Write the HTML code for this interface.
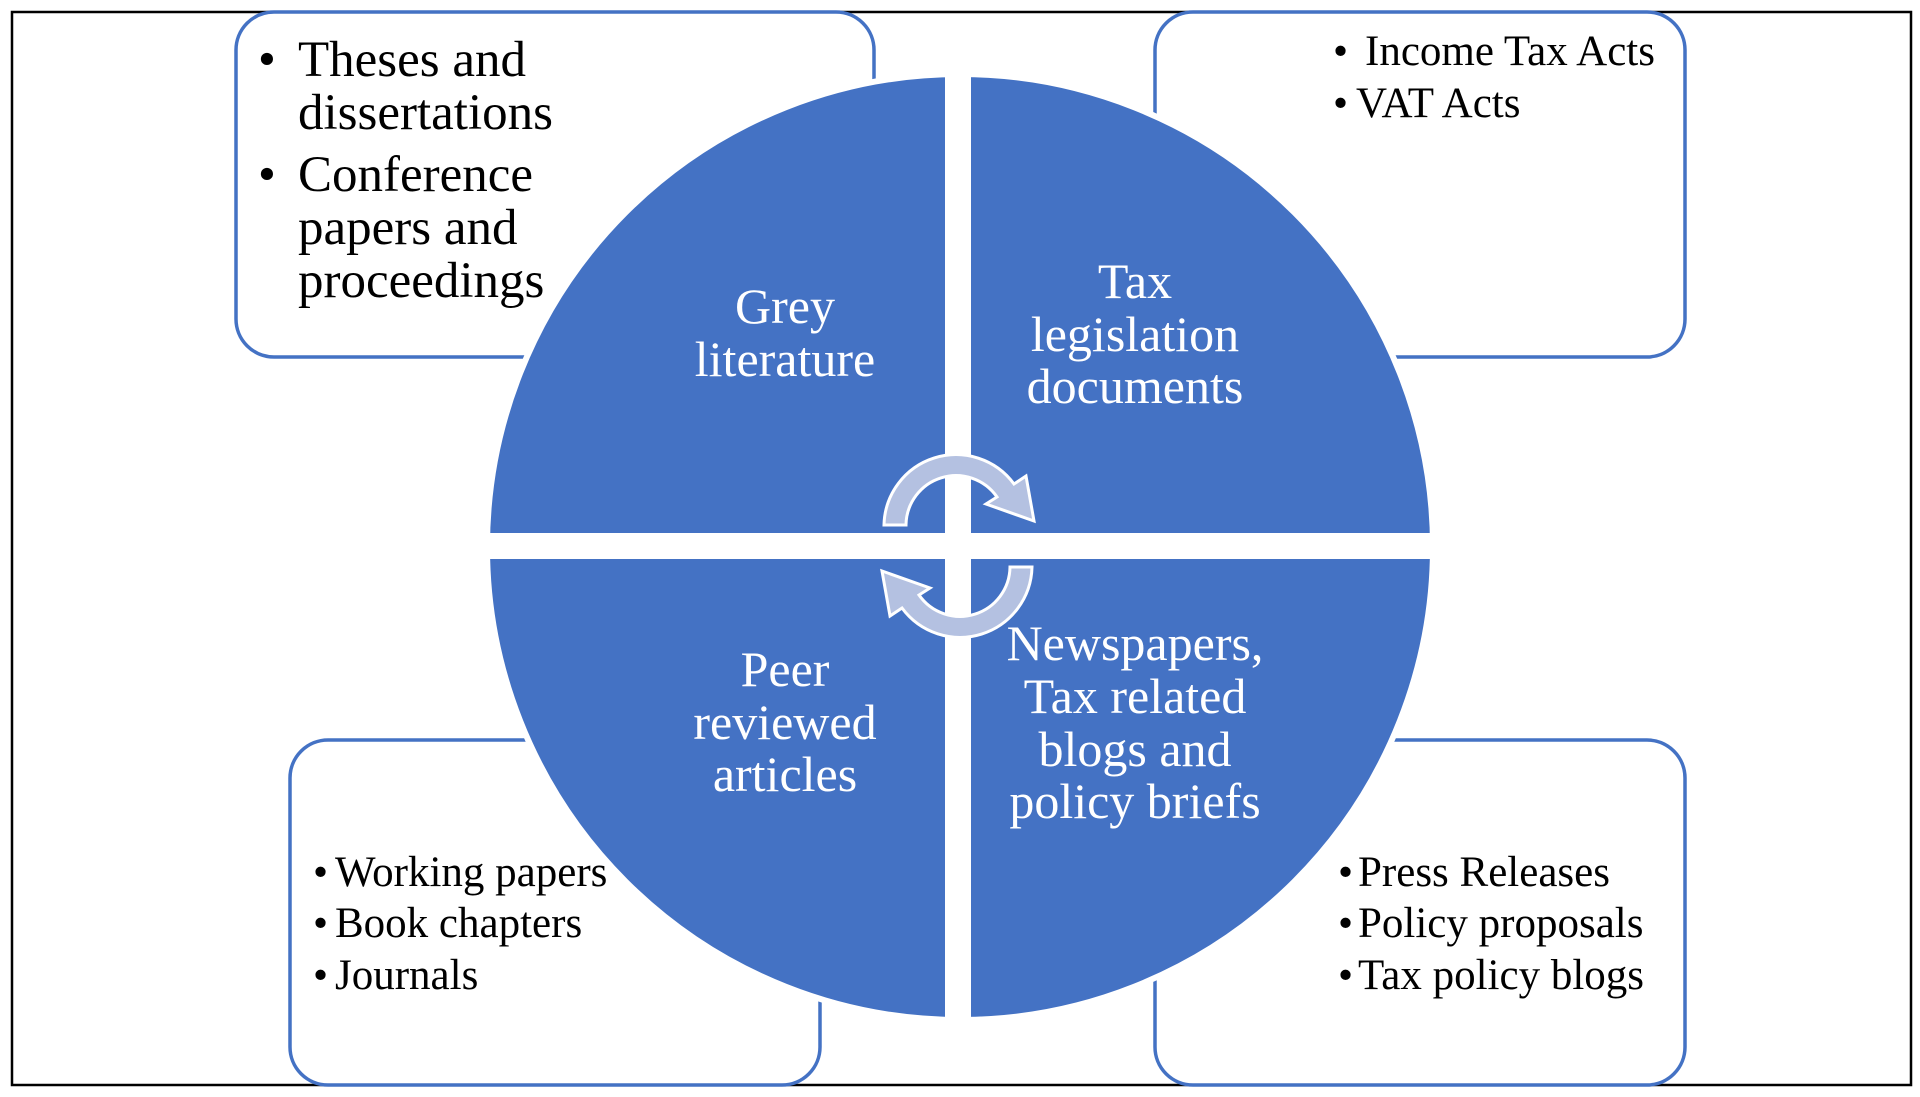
<!DOCTYPE html>
<html><head><meta charset="utf-8"><style>
html,body{margin:0;padding:0;background:#fff;}
svg{display:block;}
text{font-family:"Liberation Serif",serif;}
</style></head><body>
<svg width="1920" height="1097" viewBox="0 0 1920 1097" xmlns="http://www.w3.org/2000/svg">
<rect x="12" y="12" width="1899" height="1073" fill="#fff" stroke="#000" stroke-width="2.5"/>
<g fill="#fff" stroke="#4472C4" stroke-width="3.5">
<rect x="236" y="12" width="638" height="345" rx="38"/>
<rect x="1155" y="12" width="530" height="345" rx="38"/>
<rect x="290" y="740" width="530" height="345" rx="38"/>
<rect x="1155" y="740" width="530" height="345" rx="38"/>
</g>
<circle cx="960" cy="547" r="473" fill="#4472C4" stroke="#fff" stroke-width="6"/>
<rect x="945" y="60" width="26" height="980" fill="#fff"/>
<rect x="480" y="533" width="970" height="26" fill="#fff"/>
<g fill="#B4C1E1" stroke="#fff" stroke-width="3">
<path d="M 884 525 A 72 72 0 0 1 1014 484 L 1026 476 L 1034 521 L 986 504 L 997 497 A 50 50 0 0 0 906 525 Z"/>
<path transform="rotate(180 958 546)" d="M 884 525 A 72 72 0 0 1 1014 484 L 1026 476 L 1034 521 L 986 504 L 997 497 A 50 50 0 0 0 906 525 Z"/>
</g>
<g font-size="51" fill="#000">
<text x="258" y="76">•</text><text x="298" y="76">Theses and</text>
<text x="298" y="129">dissertations</text>
<text x="258" y="191">•</text><text x="298" y="191">Conference</text>
<text x="298" y="244">papers and</text>
<text x="298" y="297">proceedings</text>
</g>
<g font-size="50" fill="#fff" text-anchor="middle">
<text x="785" y="323">Grey</text><text x="785" y="376">literature</text>
<text x="1135" y="298">Tax</text><text x="1135" y="351">legislation</text><text x="1135" y="403">documents</text>
<text x="785" y="686">Peer</text><text x="785" y="739">reviewed</text><text x="785" y="791">articles</text>
<text x="1135" y="660">Newspapers,</text><text x="1135" y="713">Tax related</text><text x="1135" y="766">blogs and</text><text x="1135" y="818">policy briefs</text>
</g>
<g font-size="43" fill="#000">
<text x="1333" y="65">•</text><text x="1365" y="65">Income Tax Acts</text>
<text x="1333" y="117">•</text><text x="1356" y="117">VAT Acts</text>
<text x="313" y="886">•</text><text x="335" y="886">Working papers</text>
<text x="313" y="937">•</text><text x="335" y="937">Book chapters</text>
<text x="313" y="989">•</text><text x="335" y="989">Journals</text>
<text x="1338" y="886">•</text><text x="1358" y="886">Press Releases</text>
<text x="1338" y="937">•</text><text x="1358" y="937">Policy proposals</text>
<text x="1338" y="989">•</text><text x="1358" y="989">Tax policy blogs</text>
</g>
</svg>
</body></html>
